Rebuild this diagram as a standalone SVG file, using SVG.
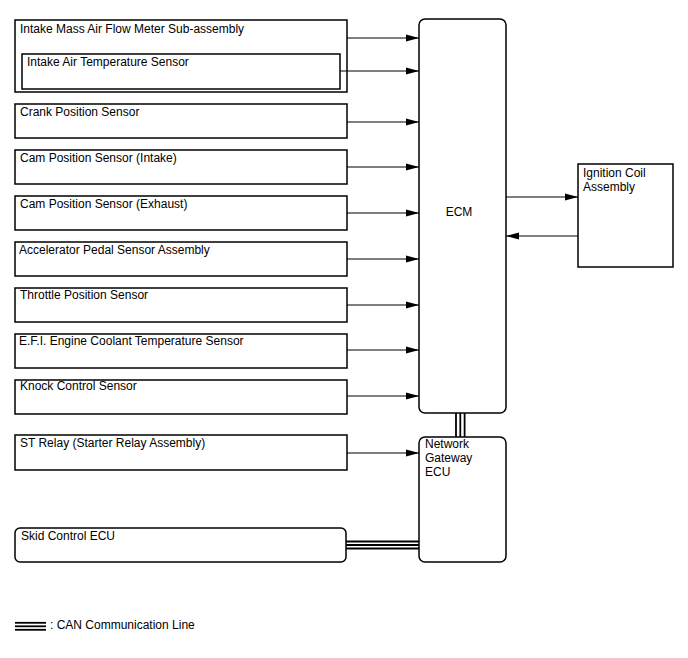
<svg xmlns="http://www.w3.org/2000/svg" width="688" height="658" viewBox="0 0 688 658">
<defs>
<marker id="ah" markerWidth="14" markerHeight="8" refX="13" refY="4" orient="auto" markerUnits="userSpaceOnUse">
<path d="M0,0.5 L13,4 L0,7.5 Z" fill="#000"/>
</marker>
</defs>
<style>
.box{fill:#fff;stroke:#000;stroke-width:1.5}
.t{font-family:"Liberation Sans",Arial,sans-serif;font-size:12px;fill:#000}
.c{stroke:#000;stroke-width:1;fill:none}
.can{stroke:#000;stroke-width:1.8;fill:none}
</style>
<rect width="688" height="658" fill="#fff"/>
<g id="ecm">
<rect class="box" x="419" y="19" width="87" height="394" rx="6"/>
<text class="t" x="459" y="216" text-anchor="middle">ECM</text>
</g>
<g id="gateway">
<rect class="box" x="419" y="437" width="87" height="125" rx="6"/>
<text class="t" x="425" y="448">Network</text>
<text class="t" x="425" y="462">Gateway</text>
<text class="t" x="425" y="476">ECU</text>
</g>
<g id="ignition">
<rect class="box" x="578" y="164" width="95" height="103"/>
<text class="t" x="583" y="177">Ignition Coil</text>
<text class="t" x="583" y="191">Assembly</text>
</g>
<g id="maf">
<rect class="box" x="15" y="20" width="332" height="72"/>
<text class="t" x="20" y="33">Intake Mass Air Flow Meter Sub-assembly</text>
</g>
<g id="iat">
<rect class="box" x="22" y="54" width="318" height="35"/>
<text class="t" x="27" y="66">Intake Air Temperature Sensor</text>
</g>
<g id="crank">
<rect class="box" x="15" y="104" width="332" height="34"/>
<text class="t" x="20" y="116">Crank Position Sensor</text>
</g>
<g id="cam-in">
<rect class="box" x="15" y="150" width="332" height="34"/>
<text class="t" x="20" y="162">Cam Position Sensor (Intake)</text>
</g>
<g id="cam-ex">
<rect class="box" x="15" y="196" width="332" height="34"/>
<text class="t" x="20" y="208">Cam Position Sensor (Exhaust)</text>
</g>
<g id="accel">
<rect class="box" x="15" y="242" width="332" height="34"/>
<text class="t" x="19" y="254">Accelerator Pedal Sensor Assembly</text>
</g>
<g id="throttle">
<rect class="box" x="15" y="288" width="332" height="34"/>
<text class="t" x="20" y="299">Throttle Position Sensor</text>
</g>
<g id="efi">
<rect class="box" x="15" y="334" width="332" height="34"/>
<text class="t" x="19" y="345">E.F.I. Engine Coolant Temperature Sensor</text>
</g>
<g id="knock">
<rect class="box" x="15" y="380" width="332" height="34"/>
<text class="t" x="20" y="390">Knock Control Sensor</text>
</g>
<g id="st">
<rect class="box" x="15" y="435" width="332" height="35"/>
<text class="t" x="20" y="447">ST Relay (Starter Relay Assembly)</text>
</g>
<g id="skid">
<rect class="box" x="15" y="528" width="331" height="34" rx="5"/>
<text class="t" x="21" y="540">Skid Control ECU</text>
</g>
<g id="connectors">
<line class="c" x1="347" y1="38" x2="419" y2="38" marker-end="url(#ah)"/>
<line class="c" x1="340" y1="71" x2="419" y2="71" marker-end="url(#ah)"/>
<line class="c" x1="347" y1="122" x2="419" y2="122" marker-end="url(#ah)"/>
<line class="c" x1="347" y1="167" x2="419" y2="167" marker-end="url(#ah)"/>
<line class="c" x1="347" y1="213" x2="419" y2="213" marker-end="url(#ah)"/>
<line class="c" x1="347" y1="259" x2="419" y2="259" marker-end="url(#ah)"/>
<line class="c" x1="347" y1="305" x2="419" y2="305" marker-end="url(#ah)"/>
<line class="c" x1="347" y1="350" x2="419" y2="350" marker-end="url(#ah)"/>
<line class="c" x1="347" y1="396" x2="419" y2="396" marker-end="url(#ah)"/>
<line class="c" x1="347" y1="453" x2="419" y2="453" marker-end="url(#ah)"/>
<line class="c" x1="506" y1="197" x2="578" y2="197" marker-end="url(#ah)"/>
<line class="c" x1="578" y1="236" x2="506" y2="236" marker-end="url(#ah)"/>
<line class="can" x1="456" y1="413" x2="456" y2="437"/>
<line class="can" x1="460.3" y1="413" x2="460.3" y2="437"/>
<line class="can" x1="464.6" y1="413" x2="464.6" y2="437"/>
<line class="can" x1="346" y1="541.5" x2="419" y2="541.5"/>
<line class="can" x1="346" y1="545" x2="419" y2="545"/>
<line class="can" x1="346" y1="548.5" x2="419" y2="548.5"/>
</g>
<g id="legend">
<line class="can" x1="15" y1="622.8" x2="46" y2="622.8"/>
<line class="can" x1="15" y1="626.3" x2="46" y2="626.3"/>
<line class="can" x1="15" y1="629.8" x2="46" y2="629.8"/>
<text class="t" x="50" y="629">: CAN Communication Line</text>
</g>
</svg>
